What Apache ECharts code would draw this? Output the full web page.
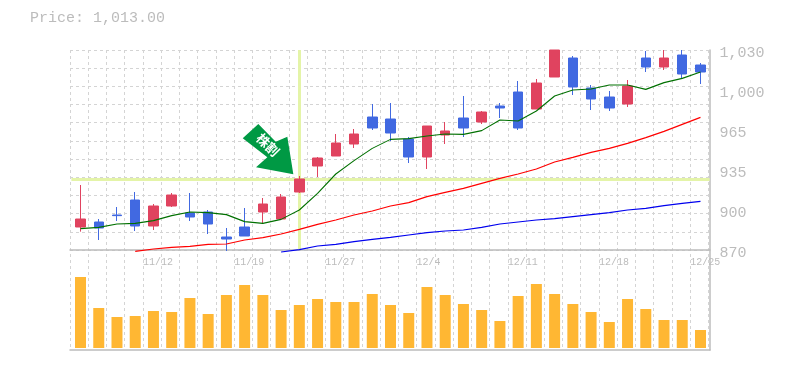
<!DOCTYPE html>
<html><head><meta charset="utf-8">
<style>html,body{margin:0;padding:0;background:#fff}#c{width:785px;height:370px}</style>
<script src="https://cdn.jsdelivr.net/npm/echarts@6/dist/echarts.min.js"></script>
</head><body><div id="c"></div>
<script>
const titleText = 'Price: 1,013.00';
const markerText = '株割';
const categories = ['11/6','11/7','11/8','11/9','11/12','11/13','11/14','11/15','11/16','11/19','11/20','11/21','11/22','11/26','11/27','11/28','11/29','11/30','12/3','12/4','12/5','12/6','12/7','12/10','12/11','12/12','12/13','12/14','12/17','12/18','12/19','12/20','12/21','12/24','12/25'];
const labelledDates = ['11/12','11/19','11/27','12/4','12/11','12/18','12/25'];
const priceTicks = [870,902,934,966,998,1030];
const priceTickLabels = ['870','900','935','965','1,000','1,030'];
const opens  = [888.4,892.4,898,910,889.2,905.2,899.6,900.4,880.4,888.4,900.4,894.8,916.4,937.2,945.2,954.8,976.4,974.8,958.8,944.4,962,975.6,972.4,985.2,996.4,982.8,1008.4,1023.6,999.6,992.4,986.8,1023.6,1016.4,1026,1018];
const closes = [894.8,887.6,897.5,889.2,905.2,914,896.4,890.8,878.8,881.2,906.8,912.4,926.8,943.6,955.6,962.8,967.6,963.6,944.4,969.2,965.2,967.6,980.4,983.6,967.6,1003.6,1030,1000.4,990.8,983.6,1001.2,1016.4,1023.6,1010.8,1012.4];
const lows   = [884.7,878,893.2,885.2,886,904.4,893.2,882.8,869.2,881.2,890.8,894.8,915.6,928.4,945.2,951.6,966,957.2,939.6,934.8,954.8,960.4,970.8,975.6,966,982.8,1008.4,994,982,981.2,984.4,1012.4,1014,1006.8,1002.8];
const highs  = [922,894.8,904.4,916.4,906.8,915.6,915.6,902,887.6,903.6,911.6,914.8,929.2,944.4,962.8,966.8,986.8,987.6,960.4,969.2,972.4,993.2,981.2,987.6,1005.2,1006.8,1030,1025.2,1002,997.2,1006,1029.2,1030,1030,1019.6];
const ma5  = [887.1,888.1,890.8,891.3,893.5,897.5,900.4,899.9,898.3,892.7,891.3,894.5,902,915.3,930.8,941.5,951.3,958.5,959.1,961.2,962.8,962.5,965.5,974,973.2,981.2,993.2,998,998.8,1002,1002,998.5,1003.9,1007.3,1012.4];
const ma25 = [null,null,null,868.9,870.8,872.1,872.9,874.5,874.8,878,879.9,882.8,886.5,890.5,894,898,901.2,905.2,907.9,912.7,916.1,919.3,923.3,927.3,930.8,934.8,940.4,944.1,948.1,951.3,955.3,959.9,964.9,970.5,976.1];
const ma75 = [null,null,null,null,null,null,null,null,null,null,null,868.4,870.3,873.2,874.5,876.7,878.5,880.1,882,883.9,885.2,886,888.1,890.8,892.4,894,895.1,896.7,898.3,899.9,902,903.3,905.5,907.3,908.9];
const volumes = [71,40,31,32,37,36,50,34,53,63,53,38,43,49,46,46,54,43,35,61,53,44,38,27,52,64,54,44,36,26,49,39,28,28,18];
const signalIndex = 12;

const gray = '#bcbcbc', gridGray = '#d4d4d4', hilite = '#e4f4a8';
const mono = '"Liberation Mono","DejaVu Sans Mono",monospace';
const dash = {show:true, lineStyle:{color:gridGray, width:1, type:[3,3]}};
const off = {show:false};
const candle = categories.map((_, i) => [opens[i], closes[i], lows[i], highs[i]]);
const labelIdx = labelledDates.map(d => categories.indexOf(d));
const lineSeries = (data, color, width) => ({type:'line', data, xAxisIndex:3, yAxisIndex:3, symbol:'none', z:4, clip:false, connectNulls:false, lineStyle:{color, width}, silent:true});

const chart = echarts.init(document.getElementById('c'), null, {renderer:'canvas'});
chart.setOption({
  animation:false,
  title:{text:titleText, left:25, top:6, textStyle:{fontFamily:mono, fontSize:15, fontWeight:'normal', color:gray}},
  grid:[
    {left:70, top:50, width:640, height:300},
    {left:70, top:50, width:638.4, height:300},
    {left:70, top:50, width:640, height:200},
    {left:71.4, top:50, width:638.2, height:200},
    {left:71.4, top:248, width:638.2, height:100},
    {left:71.4, top:53, width:638.2, height:200}
  ],
  xAxis:[
    {gridIndex:0, type:'value', min:0, max:1, axisLine:{show:true, onZero:false, lineStyle:{color:gray, width:1.5}}, axisTick:off, axisLabel:off, splitLine:off},
    {gridIndex:1, type:'value', min:0, max:35, interval:1, offset:-100, axisLine:off, axisTick:off, splitLine:dash,
      axisLabel:{show:true, customValues:labelIdx, align:'left', margin:7, fontFamily:mono, fontSize:10, color:gray, formatter:v => categories[v]}},
    {gridIndex:2, type:'value', min:0, max:1, axisLine:{show:true, onZero:false, lineStyle:{color:gray, width:1.5}}, axisTick:off, axisLabel:off, splitLine:off},
    {gridIndex:3, type:'category', data:categories, show:false},
    {gridIndex:4, type:'category', data:categories, show:false},
    {gridIndex:5, type:'value', min:0, max:1, show:false, splitLine:off}
  ],
  yAxis:[
    {gridIndex:0, type:'value', min:0, max:1, position:'right', axisLine:{show:true, onZero:false, lineStyle:{color:gray, width:1.5}}, axisTick:off, axisLabel:off, splitLine:off},
    {gridIndex:1, type:'value', min:0, max:1, show:false, splitLine:off},
    {gridIndex:2, type:'value', min:0, max:11, interval:1, axisLine:off, axisTick:off, axisLabel:off, splitLine:dash},
    {gridIndex:3, type:'value', min:870, max:1030, show:false, splitLine:off},
    {gridIndex:4, type:'value', min:0, max:100, show:false, splitLine:off},
    {gridIndex:5, type:'value', min:870, max:1030, position:'right', axisLine:off, axisTick:off, splitLine:off,
      axisLabel:{show:true, customValues:priceTicks, margin:10, fontFamily:mono, fontSize:15, color:gray, formatter:v => priceTickLabels[priceTicks.indexOf(v)]}}
  ],
  series:[
    {type:'line', data:[], xAxisIndex:3, yAxisIndex:3, z:1, symbol:'none', silent:true,
      markLine:{silent:true, z:1, symbol:'none', label:{show:false}, lineStyle:{color:hilite, width:3, type:'solid'},
        data:[{xAxis:categories[signalIndex]}, {yAxis:closes[signalIndex]}]}},
    {type:'candlestick', data:candle, xAxisIndex:3, yAxisIndex:3, z:3, barWidth:10, silent:true,
      itemStyle:{color:'#e0435f', color0:'#4169e1', borderColor:'#e0435f', borderColor0:'#4169e1', borderWidth:1},
      markPoint:{silent:true, z:6, data:[{
        coord:[categories[signalIndex], closes[signalIndex]],
        symbol:'path://M0 14.3L15.6 0L33 17.7L44.6 12.7L50.6 50.3L13.3 43.3L24.6 33.3Z',
        symbolSize:[50.6,50.3], symbolOffset:[-31.3,-29.9], symbolKeepAspect:false,
        itemStyle:{color:'#009944'},
        label:{show:true, position:'inside', offset:[-3,-3], rotate:-45, formatter:markerText, color:'#fff', fontSize:13, fontWeight:'bold', fontFamily:'"Noto Sans CJK JP"'}
      }]}},
    lineSeries(ma5,'#007000',1.1),
    lineSeries(ma25,'#ff0000',1.2),
    lineSeries(ma75,'#0000ee',1.2),
    {type:'bar', data:volumes, xAxisIndex:4, yAxisIndex:4, barWidth:11, silent:true, itemStyle:{color:'#ffb733'}}
  ]
});
</script></body></html>
